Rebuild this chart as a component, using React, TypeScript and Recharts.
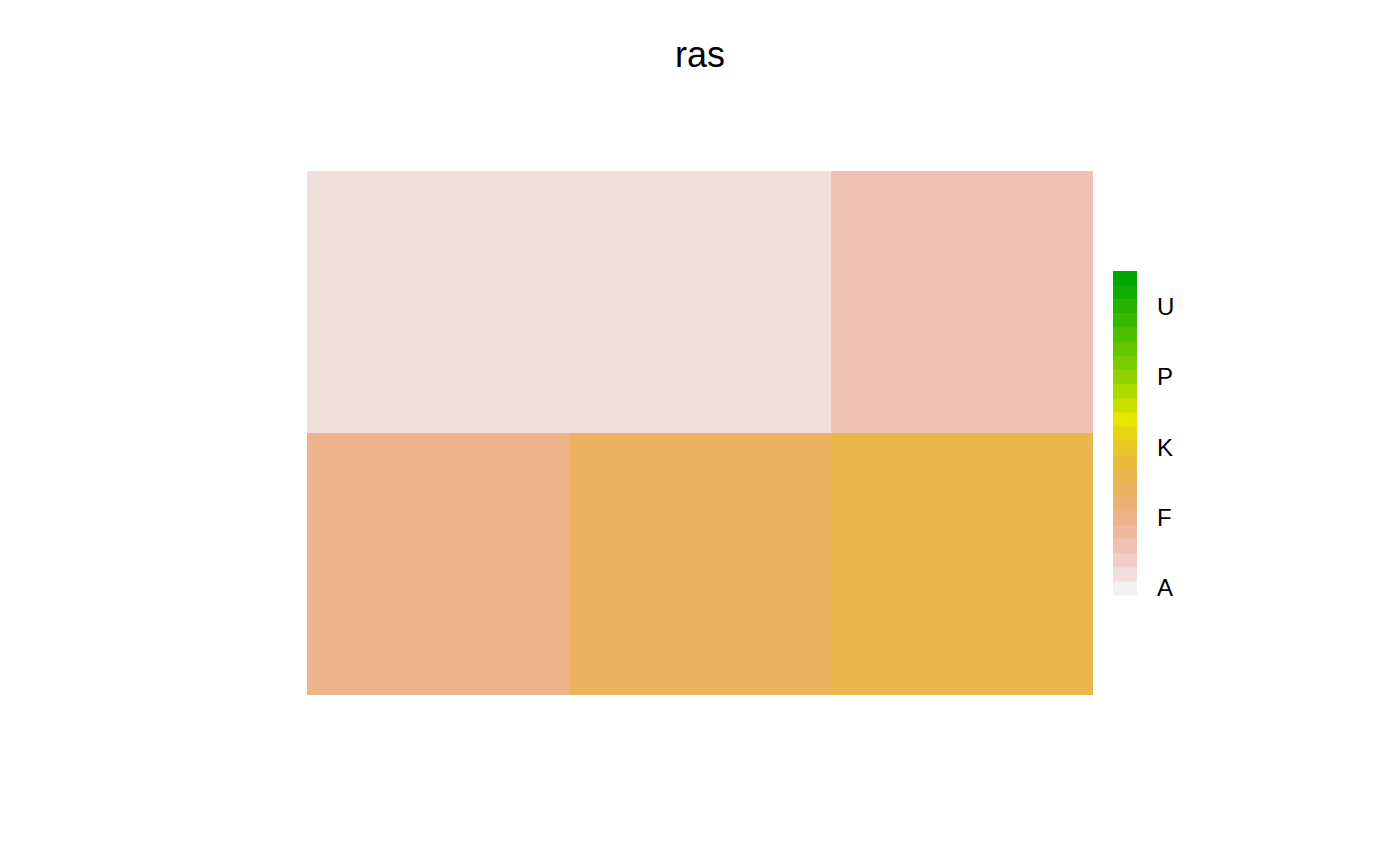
import React from 'react';
import { BarChart, Bar, XAxis, YAxis, Cell, Customized } from 'recharts';

// Factor levels of the raster (A..W), legend ticks every 5th level
const levels = ['A','B','C','D','E','F','G','H','I','J','K','L','M','N','O','P','Q','R','S','T','U','V','W'];
const legendTicks = ['A','F','K','P','U'];

// Raster cells: three columns, two rows
const columns = ['c1','c2','c3'];
const bottomRowLevels = ['F','H','I'];
const topRowLevels = ['B','B','D'];

const title = 'ras';

// terrain.colors palette (reversed, so A is lightest)
function hsvToHex(h: number, s: number, v: number): string {
  const i = Math.floor(h * 6);
  const f = h * 6 - i;
  const p = v * (1 - s);
  const q = v * (1 - f * s);
  const t = v * (1 - (1 - f) * s);
  let r = 0, g = 0, b = 0;
  switch (((i % 6) + 6) % 6) {
    case 0: r = v; g = t; b = p; break;
    case 1: r = q; g = v; b = p; break;
    case 2: r = p; g = v; b = t; break;
    case 3: r = p; g = q; b = v; break;
    case 4: r = t; g = p; b = v; break;
    default: r = v; g = p; b = q; break;
  }
  const hx = (x: number) => Math.round(x * 255).toString(16).padStart(2, '0');
  return '#' + hx(r) + hx(g) + hx(b);
}
function terrainColors(n: number): string[] {
  const k = Math.floor(n / 2);
  const out: string[] = [];
  for (let j = 0; j < k; j++) {
    const f = k === 1 ? 0 : j / (k - 1);
    out.push(hsvToHex(4 / 12 + (2 / 12 - 4 / 12) * f, 1, 0.65 + (0.9 - 0.65) * f));
  }
  const m = n - k + 1;
  for (let j = 1; j < m; j++) {
    const f = j / (m - 1);
    out.push(hsvToHex(2 / 12 - (2 / 12) * f, 1 - f, 0.9 + 0.05 * f));
  }
  return out;
}
const terrain = terrainColors(levels.length);
const levelColor = (lv: string) => terrain[levels.length - 1 - levels.indexOf(lv)];

const data = columns.map((c, i) => ({ col: c, bottom: 1, top: 1, bl: bottomRowLevels[i], tl: topRowLevels[i] }));

const FONT = '"Liberation Sans", Arial, Helvetica, sans-serif';

const LegendBar = () => {
  const x = 1113, w = 24, yTop = 271, yBot = 595;
  const n = levels.length;
  const bh = (yBot - yTop) / n;
  return (
    <g>
      {levels.map((lv, i) => (
        <rect key={lv} x={x} y={yBot - (i + 1) * bh} width={w} height={bh + 0.5} fill={levelColor(lv)} />
      ))}
      {legendTicks.map((lv) => {
        const i = levels.indexOf(lv);
        return (
          <text key={lv} x={1157} y={yBot - (i + 0.5) * bh + 8.5} fontSize={24} fontFamily={FONT} fill="#000">
            {lv}
          </text>
        );
      })}
      <text x={700} y={67} textAnchor="middle" fontSize={36} fontFamily={FONT} fill="#000">{title}</text>
    </g>
  );
};

export default function App() {
  return (
    <div style={{ position: 'absolute', left: 0, top: 0, width: 1400, height: 866, background: '#fff' }}>
      <BarChart width={1400} height={866} data={data} margin={{ top: 171, right: 307, bottom: 171, left: 307 }} barCategoryGap={0} barGap={0}>
        <XAxis dataKey="col" hide />
        <YAxis hide domain={[0, 2]} />
        <Bar dataKey="bottom" stackId="r" isAnimationActive={false}>
          {data.map((d) => <Cell key={'b' + d.col} fill={levelColor(d.bl)} />)}
        </Bar>
        <Bar dataKey="top" stackId="r" isAnimationActive={false}>
          {data.map((d) => <Cell key={'t' + d.col} fill={levelColor(d.tl)} />)}
        </Bar>
        <Customized component={<LegendBar />} />
      </BarChart>
    </div>
  );
}
